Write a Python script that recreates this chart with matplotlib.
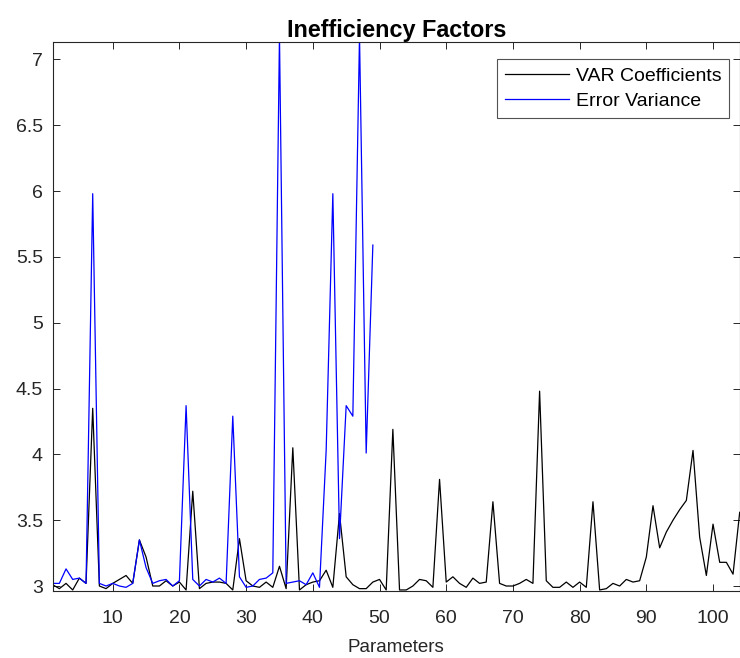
#!/usr/bin/python3

# Inefficiency factors of the VAR coefficients and of the error variance
# parameters, drawn in the style of a MATLAB figure.

import matplotlib
matplotlib.use("Agg")
import matplotlib.pyplot as plt
from matplotlib.ticker import FormatStrFormatter

plt.rcParams["font.family"] = ["Liberation Sans", "DejaVu Sans"]

# values
var_coefficients = [
    3.01, 2.98, 3.02, 2.97, 3.06, 3.02, 4.35, 3.00, 2.98, 3.02,
    3.05, 3.08, 3.02, 3.35, 3.22, 3.00, 3.00, 3.04, 3.00, 3.03,
    2.97, 3.72, 2.98, 3.02, 3.03, 3.03, 3.02, 2.97, 3.36, 3.04,
    3.00, 2.99, 3.03, 2.99, 3.15, 2.98, 4.05, 2.97, 3.01, 3.03,
    3.04, 3.12, 2.99, 3.55, 3.07, 3.01, 2.98, 2.98, 3.03, 3.05,
    2.97, 4.19, 2.97, 2.97, 3.00, 3.05, 3.04, 2.99, 3.81, 3.03,
    3.07, 3.02, 2.99, 3.06, 3.02, 3.03, 3.64, 3.02, 3.00, 3.00,
    3.02, 3.05, 3.02, 4.48, 3.04, 2.99, 2.99, 3.03, 2.99, 3.03,
    2.99, 3.64, 2.97, 2.98, 3.02, 3.00, 3.05, 3.03, 3.04, 3.22,
    3.61, 3.29, 3.41, 3.50, 3.58, 3.65, 4.03, 3.37, 3.08, 3.47,
    3.18, 3.18, 3.09, 3.56,
]
error_variance = [
    3.02, 3.02, 3.13, 3.05, 3.06, 3.02, 5.98, 3.02, 3.00, 3.02,
    3.00, 2.99, 3.02, 3.35, 3.14, 3.02, 3.04, 3.05, 3.00, 3.04,
    4.37, 3.05, 3.00, 3.05, 3.03, 3.06, 3.02, 4.29, 3.07, 2.99,
    3.00, 3.05, 3.06, 3.10, 7.18, 3.02, 3.03, 3.04, 3.01, 3.10,
    2.99, 4.03, 5.98, 3.36, 4.37, 4.29, 7.18, 4.01, 5.59,
]
series_labels = ["VAR Coefficients", "Error Variance"]
x_ticks = [10, 20, 30, 40, 50, 60, 70, 80, 90, 100]
y_ticks = [3, 3.5, 4, 4.5, 5, 5.5, 6, 6.5, 7]

axis_color = "#262626"

fig = plt.figure(figsize=(7.4, 6.58), dpi=100)
ax = fig.add_axes([0.0712, 0.1018, 0.9284, 0.8339])

ax.plot(range(1, len(var_coefficients) + 1), var_coefficients,
        color="black", linewidth=0.9, label=series_labels[0])
ax.plot(range(1, len(error_variance) + 1), error_variance,
        color=(0, 0, 1), linewidth=0.9, label=series_labels[1])

ax.set_xlim(1, 104)
ax.set_ylim(2.962, 7.13)
ax.set_xticks(x_ticks)
ax.set_yticks(y_ticks)
ax.yaxis.set_major_formatter(FormatStrFormatter("%g"))

ax.tick_params(direction="in", length=5, width=0.7, top=True, right=True,
               labelsize=14, colors=axis_color)
ax.tick_params(axis="x", pad=14)
ax.tick_params(axis="y", pad=7)
for side in ["left", "top", "right", "bottom"]:
    ax.spines[side].set_color(axis_color)
    ax.spines[side].set_linewidth(0.8)

ax.set_title("Inefficiency Factors", fontsize=16.8, fontweight="bold",
             pad=4)
ax.set_xlabel("Parameters", fontsize=13.5, color=axis_color, labelpad=8)

leg = ax.legend(loc="upper right", bbox_to_anchor=(0.9848, 0.969),
                borderaxespad=0, fontsize=14, fancybox=False,
                handlelength=3.3, handletextpad=0.35, labelspacing=0.4,
                borderpad=0.4)
leg.get_frame().set_edgecolor(axis_color)
leg.get_frame().set_linewidth(0.8)
for line in leg.get_lines():
    line.set_linewidth(0.9)

plt.savefig("out.png", dpi=100)
